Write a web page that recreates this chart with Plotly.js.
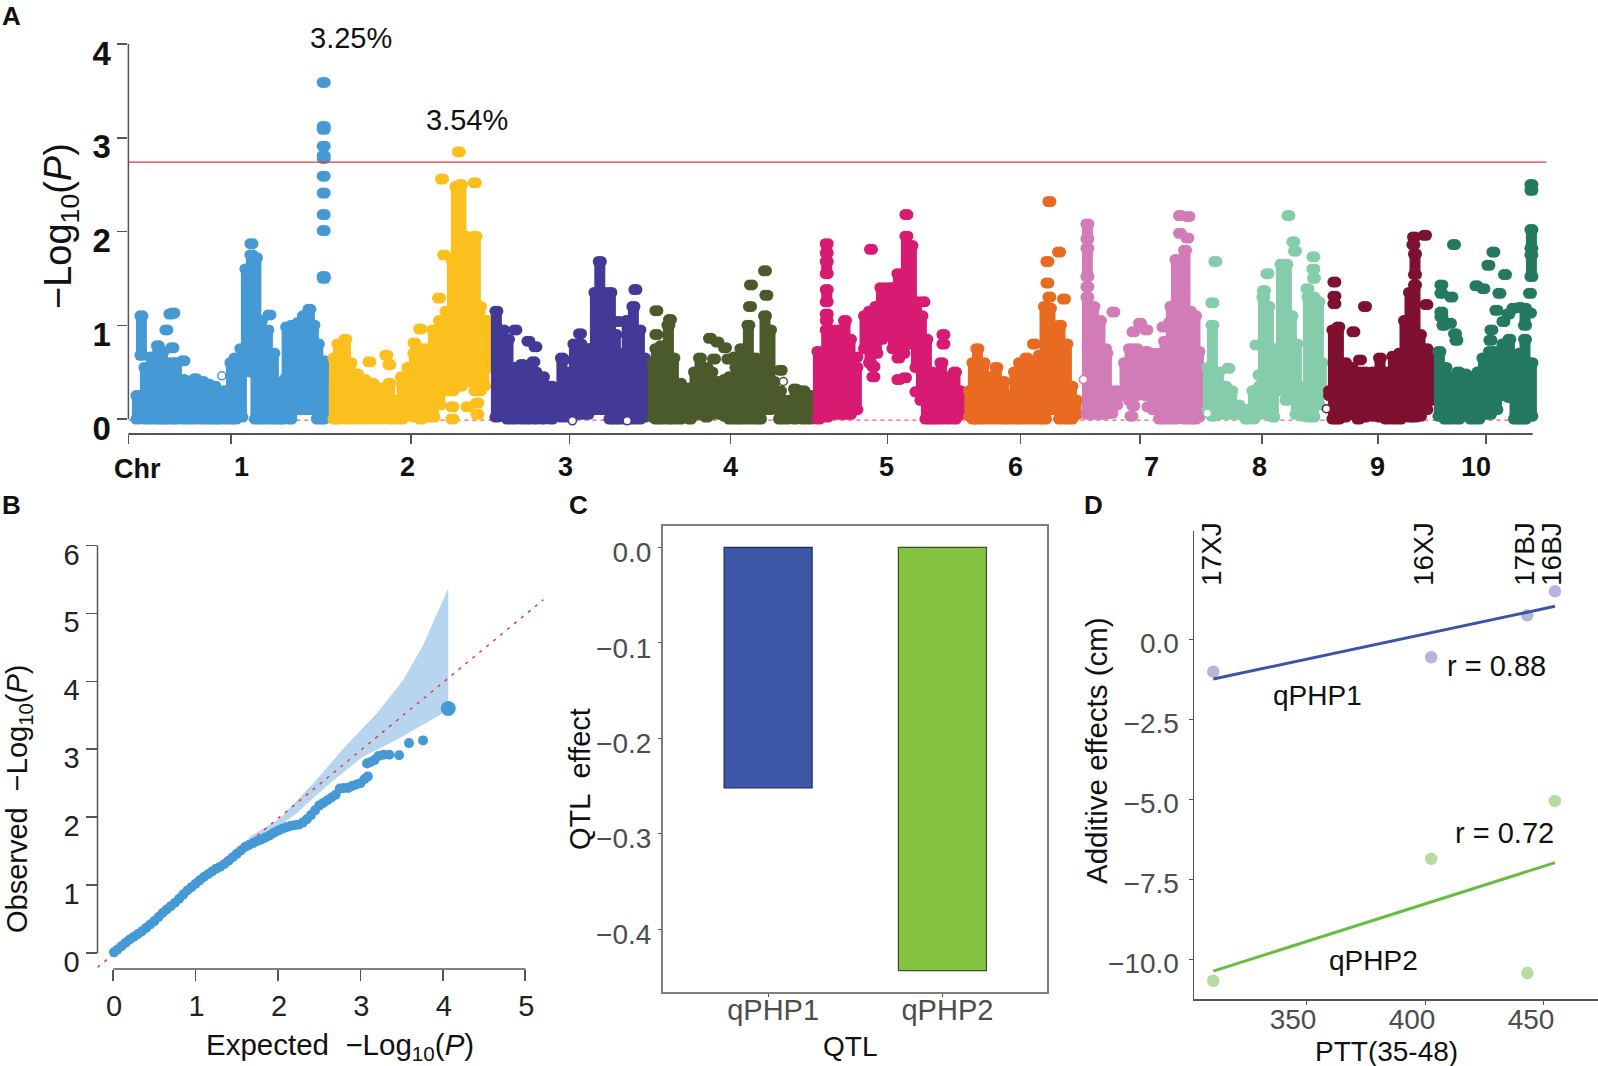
<!DOCTYPE html>
<html>
<head>
<meta charset="utf-8">
<script src="https://cdn.plot.ly/plotly-3.0.1.min.js"></script>
<style>body{margin:0;background:#fff}</style>
</head>
<body>
<div id="chart" style="width:1598px;height:1066px"></div>
<script>
/* Values. Panel A positions are along the genome axis,
   each chromosome is a list of columns (lo..hi) of overlapping SNP dots plus the loose dots. */

const chrNames = ["1","2","3","4","5","6","7","8","9","10"];
const chrColors = ["#4599d5","#fbc01d","#433a97","#4b5a2b","#d81b72","#e96a21","#d17cb7","#85cdaa","#7e112f","#237a60"];
const chrTicks = [0,102.6,282.6,441,602.2,759.2,892.2,1011.6,1133.6,1249.6,1357.6];
const chrLabelX = [8.6,112.6,278.6,436.6,602.2,757.6,886.6,1022.6,1130.6,1248.6,1347.6];

const chr1X  = [9,13,17,23,29.5,34,38,44,48,55,61,67,74,80,86,90.5,97,103,107,113,118,123,127.5,132.6,139,145,150,154.5,158.7,162,164,170.5,175.5,181,185,189.4,195];
const chr1Lo = [0,.68,0,0,0,0,0,0,0,0,0,0,0,0,0,0,0,0,0,.02,.7,.5,0,0,0,0,0,0,.45,0,.15,.1,.1,.1,.1,0,0];
const chr1Hi = [.25,1.1,.55,.66,.78,.72,.6,.6,.6,.42,.4,.43,.4,.37,.35,.2,.3,.6,.65,.75,1.6,1.75,1.72,1.05,.95,.7,.35,.4,.98,.05,1,1.03,1.1,1.17,1,.8,.62];
const chr1DotX = [38,42,45,44,55,123,141,195.3,195.3,195.3,195.3,195.3,195.3,195.3,195.3,195.3,195.3,195.3,195.3,198,198];
const chr1DotY = [.95,1.12,1.13,.76,.62,1.87,1.11,3.59,3.12,3.09,2.91,2.81,2.78,2.59,2.41,2.18,2.01,1.52,1.5,.6,.5];

const chr2X  = [206,210,217,222,228.5,236,244,252.5,261,267,273.6,280,286,292.5,299,305,311.5,318,324,328,332.5,336.7,342,347,351.5,355.6,360];
const chr2Lo = [0,0,0,0,0,0,0,0,0,0,0,.05,.02,0,.02,.02,.15,.3,.3,.35,.35,.55,.4,.3,.3,.35,.55];
const chr2Hi = [.65,.8,.85,.6,.48,.42,.38,.33,.38,.2,.45,.55,.7,.75,.75,.95,1.05,1.15,1.7,2.48,2.5,1.95,1.9,1.95,1.2,1.05,1.05];
const chr2DotX = [241,258,261,286,291.7,310.6,315.7,313.6,330.4,346.4,324,324,339,349,349];
const chr2DotY = [.61,.68,.58,.81,.96,1.29,1.75,2.56,2.85,2.52,.13,0,.13,.17,.05];

const chr3X  = [368,374.6,379.6,386,393.5,400,407,414.6,423,429,433.5,440,446,452,459,463,467,471.4,475.6,482,487,492,498.8,505,511,515.6];
const chr3Lo = [.02,.03,0,0,0,0,0,0,0,.05,.02,.02,.05,.05,.05,.1,.1,.1,.1,0,0,0,0,0,0,.02];
const chr3Hi = [1.15,.95,.85,.55,.58,.57,.5,.45,.35,.3,.65,.5,.8,.8,.75,.75,1.35,1.68,1.35,1.35,.9,.7,1.05,1.2,.95,.65];
const chr3DotX = [387,400,407,405,435,451.6,490,507];
const chr3DotY = [.95,.83,.77,.61,.63,.91,1.04,1.38];

const chr4X  = [525,528,533,540,545,551.6,561.6,566.6,571.6,578,583,591.6,596.6,601.6,608,613,620,626.6,631.6,636.6,641.6,645,651.6,658,666.6,675,681.6];
const chr4Lo = [.02,0,0,0,0,0,0,.05,.05,.02,.05,.05,.03,0,0,0,0,0,0,.1,.1,.15,0,0,0,0,0];
const chr4Hi = [.6,.75,.78,1,.65,.38,.33,.5,.65,.55,.5,.4,.42,.45,.55,.75,1,.65,.6,1.1,.95,.4,.3,.2,.32,.3,.25];
const chr4DotX = [528,528,541.6,581.6,589,596.6,585.6,600,606.6,622.6,621.6,636.6,638,652.3];
const chr4DotY = [1.155,.9,1.06,.86,.82,.76,.64,.64,.66,1.43,1.2,1.58,1.32,.52];

const chr5X  = [690,698.3,698.3,698.3,698.3,698.3,705,711.6,716.6,721.6,728,736.6,741.6,748,753,760,765,770,775,778,783,788,793,798,803,808,813,820,826.6,831];
const chr5Lo = [0,.02,1.05,1.25,1.55,1.77,.05,.05,.05,.05,.1,.75,.6,.7,.85,.9,.75,.8,.7,.8,.8,.55,.2,0,0,0,0,0,0,.05];
const chr5Hi = [.72,.95,1.12,1.38,1.68,1.87,.95,.95,1.05,.85,.55,1.1,1.15,1.2,1.4,1.4,1.4,1.55,1.5,1.95,1.85,1.25,1.1,.85,.5,.4,.6,.45,.5,.3];
const chr5DotX = [728,745,745,742.6,770,770,776.6,778,795,788,815,815];
const chr5DotY = [.66,.45,.56,1.81,.65,.42,.44,2.18,1.25,.29,.9,.8];

const chr6X  = [841.6,845,849,855,861.6,868,875,880,886.6,891.6,898,905,911.6,916.6,921.6,926.6,931.6,938,943,947.6];
const chr6Lo = [.03,0,0,0,0,0,0,0,0,0,0,0,0,0,.1,.1,0,0,0,.05];
const chr6Hi = [.3,.6,.75,.6,.45,.55,.4,.25,.5,.6,.65,.62,.68,1.2,1.18,.8,1,.8,.35,.2];
const chr6DotX = [905.6,921,930.6,919,919,921,935.6];
const chr6DotY = [.8,2.32,1.78,1.68,1.45,1.3,1.28];

const chr7X  = [959,959,959,965,971.6,976.6,978,981.6,988,996.6,1001.6,1008,1018,1025,1031.6,1036.6,1043,1048,1056.6,1061.6,1066.6,1070];
const chr7Lo = [.05,1.52,1.92,.05,.05,.05,.1,.1,.15,.25,.2,.25,.25,.1,0,0,0,0,0,0,0,.02];
const chr7Hi = [1.3,1.82,2.08,1.2,1.05,.75,.7,.3,.3,.6,.75,.75,.72,.7,.7,.83,1.2,1.7,1.8,1.15,1.1,.72];
const chr7DotX = [959,985,1005,1011.6,1018,1005,1020,1003,983,1035,1041.6,1051.6,1059,1051.6,1060];
const chr7DotY = [1.41,1.14,.93,1.02,.95,.14,.13,.03,.06,.98,1.03,1.98,1.93,2.17,2.16];

const chr8X  = [1080,1084,1090,1096.6,1103,1110,1118,1125,1131.6,1135,1140,1145,1153,1158,1163,1168,1175,1180,1185,1190,1193];
const chr8Lo = [.1,.03,.05,.05,.05,.05,0,0,.05,.4,.05,.02,.3,.2,.3,.05,.03,.02,.02,.15,.3];
const chr8Hi = [.55,1,.5,.35,.3,.15,.1,.3,.35,1.3,1.2,.75,1.65,1.65,1.1,.8,.35,1.3,1.3,1.25,.6];
const chr8DotX = [1087,1084,1100,1131,1128,1135.6,1139,1160,1165,1166.6,1179,1185,1185,1185.6];
const chr8DotY = [1.68,1.24,.54,.47,.79,1.37,1.55,2.17,1.89,1.79,1.39,1.73,1.6,1.5];

const chr9X  = [1201.6,1205,1210,1216.6,1223,1230,1236.6,1245,1251.6,1258,1265,1271.6,1276.6,1281.6,1286.6,1286.6,1291.6,1298,1302.6];
const chr9Lo = [.25,0,0,.02,.05,0,.02,.03,.02,0,0,0,.1,.02,.02,1.54,.03,.1,.2];
const chr9Hi = [.3,.95,.98,.6,.55,.5,.5,.5,.65,.5,.67,.7,1.05,1.35,1.43,1.76,.9,.75,.7];
const chr9DotX = [1206,1206,1206,1225,1231.6,1236.6,1285.6,1296.6,1285,1298];
const chr9DotY = [1.46,1.31,1.23,.93,.63,1.2,1.94,1.96,1.86,1.22];

const chr10X  = [1311,1317,1323,1330,1336.6,1343,1350,1355,1361.6,1368,1375,1381,1386.6,1391.6,1396.6,1396.6,1403,1403,1403];
const chr10Lo = [.03,0,0,0,.03,0,0,.05,.05,.1,.25,.23,0,0,0,1,.03,1.52,1.82];
const chr10Hi = [.72,.55,.45,.5,.48,.45,.5,.65,.72,.72,.8,.85,.6,.7,.85,1.18,.6,1.75,2.02];
const chr10DotX = [1313,1313,1323,1313,1313,1315,1321.6,1326.6,1328,1325.6,1365,1360,1376.6,1348,1355,1371,1401.6,1368,1363,1362,1385,1391.6,1375,1380,1401.6,1403,1403];
const chr10DotY = [1.43,1.34,1.3,1.14,1.09,1,1.02,.91,.84,1.86,1.78,1.64,1.54,1.42,1.39,1.34,1.34,1.16,.95,.84,1.18,1.19,1.04,1.12,1.13,2.5,2.44];

const openX = [93.4,444,498.8,655,955,1079,1198];
const openY = [.46,-.02,-.02,.4,.42,.06,.11];
const openColors = ["#4599d5","#433a97","#433a97","#4b5a2b","#d17cb7","#85cdaa","#7e112f"];

const threshold = 2.74;

/* panel B */
const qqX = [.01,.05,.1,.15,.2,.25,.3,.35,.4,.45,.5,.55,.6,.65,.7,.75,.8,.85,.9,.95,1,1.05,1.1,1.15,1.2,1.25,1.3,1.35,1.4,1.45,1.5,1.55,1.6,1.65,1.7,1.75,1.8,1.85,1.9,1.95,2,2.05,2.1,2.15,2.2,2.25,2.3,2.35,2.4,2.45,2.5,2.55,2.6,2.65,2.7,2.75,2.8,2.85,2.9,2.95,3,3.05,3.09,3.08,3.12,3.17,3.22,3.28,3.35,3.47,3.59,3.76];
const qqY = [.01,.05,.1,.15,.2,.24,.28,.32,.37,.42,.47,.53,.59,.64,.69,.74,.8,.86,.92,.97,1.02,1.07,1.12,1.16,1.2,1.24,1.27,1.31,1.36,1.41,1.46,1.51,1.56,1.59,1.62,1.65,1.67,1.7,1.73,1.77,1.8,1.83,1.85,1.87,1.88,1.89,1.92,1.97,2.03,2.1,2.17,2.21,2.25,2.29,2.33,2.42,2.43,2.43,2.46,2.48,2.5,2.56,2.6,2.79,2.81,2.84,2.9,2.92,2.92,2.91,3.09,3.13];
const qqTopX = [4.066];
const qqTopY = [3.6];
const bandUpperX = [1.55,1.66,2.02,2.43,2.83,3.2,3.52,3.76,4.066];
const bandUpperY = [1.55,1.71,1.98,2.5,3.06,3.53,4.02,4.53,5.37];
const bandLowerX = [4.066,3.96,3.44,3.03,2.63,2.23,1.82,1.55];
const bandLowerY = [3.6,3.5,3.14,2.89,2.5,2.06,1.69,1.55];
const refLineX = [-.19,5.22];
const refLineY = [-.21,5.2];

/* panel C */
const qtlNames = ["qPHP1","qPHP2"];
const qtlEffect = [-.252,-.4436];

/* panel D */
const envNames = ["17XJ","16XJ","17BJ","16BJ"];
const envPTT = [311,402.6,443,454.6];
const php1Add = [-1,-.55,.76,1.51];
const php2Add = [-10.66,-6.85,-10.42,-5.04];
const fitPTT = [311,454.6];
const php1Fit = [-1.23,1.04];
const php2Fit = [-10.36,-6.97];

const W = 1598, H = 1066;
const SANS = "Liberation Sans, Arial, sans-serif";
const domX = (a, b) => [a / W, b / W];
const domY = (a, b) => [1 - b / H, 1 - a / H];
const GREY = "#4d4d4d", AX = "#555555";

/* the original dots are squashed (wider than tall): two overlapping round markers
   either side of the value get that shape, SPREAD is half the offset in axis units */
const SPREAD = 1.5;
function chromTrace(i, xs, lo, hi) {
  const x = [], y = [];
  xs.forEach((v, k) => { x.push(v, v, null); y.push(lo[k], hi[k], null); });
  return { type: "scatter", mode: "lines", x, y, xaxis: "x", yaxis: "y",
    name: "Chr " + chrNames[i], showlegend: false, cliponaxis: false,
    line: { color: chrColors[i], width: 11 } };
}
function dotTrace(i, x, y) {
  const xx = [], yy = [];
  x.forEach((v, k) => { xx.push(v - SPREAD, v + SPREAD); yy.push(y[k], y[k]); });
  return { type: "scatter", mode: "markers", x: xx, y: yy, xaxis: "x", yaxis: "y", showlegend: false,
    cliponaxis: false, marker: { color: chrColors[i], size: 11 } };
}

const chromCols = [
  [chr1X,chr1Lo,chr1Hi,chr1DotX,chr1DotY],[chr2X,chr2Lo,chr2Hi,chr2DotX,chr2DotY],
  [chr3X,chr3Lo,chr3Hi,chr3DotX,chr3DotY],[chr4X,chr4Lo,chr4Hi,chr4DotX,chr4DotY],
  [chr5X,chr5Lo,chr5Hi,chr5DotX,chr5DotY],[chr6X,chr6Lo,chr6Hi,chr6DotX,chr6DotY],
  [chr7X,chr7Lo,chr7Hi,chr7DotX,chr7DotY],[chr8X,chr8Lo,chr8Hi,chr8DotX,chr8DotY],
  [chr9X,chr9Lo,chr9Hi,chr9DotX,chr9DotY],[chr10X,chr10Lo,chr10Hi,chr10DotX,chr10DotY],
];

const traces = [];
traces.push({ type: "scatter", mode: "lines", x: [0, 1404], y: [-.012, -.012], xaxis: "x", yaxis: "y",
  showlegend: false, line: { color: "#ee3344", width: 1, dash: "4px,4px" } });
chromCols.forEach((c, i) => {
  traces.push(chromTrace(i, c[0], c[1], c[2]));
  // column ends get the same dots as the loose points, so the silhouette is scalloped
  traces.push(dotTrace(i, c[0].concat(c[0], c[3]), c[1].concat(c[2], c[4])));
});
traces.push({ type: "scatter", mode: "markers", x: openX, y: openY, xaxis: "x", yaxis: "y", showlegend: false,
  cliponaxis: false, marker: { color: "#ffffff", size: 8, line: { color: openColors, width: 1.5 } } });
traces.push({ type: "scatter", mode: "lines", x: [0, 1418], y: [threshold, threshold], xaxis: "x", yaxis: "y",
  showlegend: false, line: { color: "#e8343c", width: 1.3 } });

/* B */
traces.push({ type: "scatter", mode: "lines", x: bandUpperX.concat(bandLowerX), y: bandUpperY.concat(bandLowerY),
  xaxis: "x2", yaxis: "y2", fill: "toself", fillcolor: "#b7d5ee", line: { width: 0 }, showlegend: false });
traces.push({ type: "scatter", mode: "lines", x: refLineX, y: refLineY, xaxis: "x2", yaxis: "y2", showlegend: false,
  line: { color: "#ee3344", width: 1.5, dash: "3px,6px" } });
traces.push({ type: "scatter", mode: "markers", x: qqX, y: qqY, xaxis: "x2", yaxis: "y2", showlegend: false,
  marker: { color: "#4599d5", size: 10 } });
traces.push({ type: "scatter", mode: "markers", x: qqTopX, y: qqTopY, xaxis: "x2", yaxis: "y2", showlegend: false,
  marker: { color: "#4599d5", size: 15 } });

/* C */
traces.push({ type: "bar", x: qtlNames, y: qtlEffect, width: .505, xaxis: "x3", yaxis: "y3", showlegend: false,
  marker: { color: ["#3b57a5", "#84c441"], line: { color: ["#1f2d5c", "#3c4f2a"], width: 1.2 } } });

/* D */
traces.push({ type: "scatter", mode: "markers", x: envPTT, y: php1Add, xaxis: "x4", yaxis: "y4", showlegend: false,
  marker: { color: "#b4b4dc", size: 12.5 } });
traces.push({ type: "scatter", mode: "markers", x: envPTT, y: php2Add, xaxis: "x4", yaxis: "y4", showlegend: false,
  marker: { color: "#b6dca0", size: 12.5 } });
traces.push({ type: "scatter", mode: "lines", x: fitPTT, y: php1Fit, xaxis: "x4", yaxis: "y4", showlegend: false,
  line: { color: "#3a55a5", width: 3 } });
traces.push({ type: "scatter", mode: "lines", x: fitPTT, y: php2Fit, xaxis: "x4", yaxis: "y4", showlegend: false,
  line: { color: "#66bd3f", width: 3 } });

const annPaper = (text, x, y, size, extra) => Object.assign({ text, x: x / W, y: 1 - y / H, xref: "paper", yref: "paper",
  showarrow: false, xanchor: "center", yanchor: "middle", font: { family: SANS, size, color: "#111" } }, extra || {});
const bold = s => "<b>" + s + "</b>";
const vert = { textangle: -90 };

const annotations = [
  annPaper(bold("A"), 11, 16, 26), annPaper(bold("B"), 11, 505, 26),
  annPaper(bold("C"), 578, 505, 26), annPaper(bold("D"), 1093, 505, 26),
  annPaper(bold("Chr"), 137, 469, 27),
  annPaper("3.25%", 351.4, 38, 29), annPaper("3.54%", 467, 120, 29),
  // axis titles sit off-centre in the original, so they are placed by hand
  annPaper("−Log<sub>10</sub>(<i>P</i>)", 61, 226, 38, vert),
  annPaper("Observed  −Log<sub>10</sub>(<i>P</i>)", 19, 799, 29, vert),
  annPaper("Expected  −Log<sub>10</sub>(<i>P</i>)", 340, 1046, 29.5),
  annPaper("QTL  effect", 580, 779, 29, vert),
  annPaper("QTL", 850, 1046, 28),
  annPaper("Additive effects (cm)", 1096, 751, 29.5, vert),
  annPaper("PTT(35-48)", 1386, 1051, 28),
];
chrNames.forEach((n, i) => annotations.push({ text: bold(n), x: chrLabelX[i + 1], y: 1 - 467 / H, xref: "x", yref: "paper",
  showarrow: false, font: { family: SANS, size: 27, color: "#111" } }));

const envLabelX = [1211, 1423, 1524, 1551];
envNames.forEach((n, i) => annotations.push(annPaper(n, envLabelX[i], 554, 28, vert)));
annotations.push(annPaper("r = 0.88", 1496, 666, 29));
annotations.push(annPaper("qPHP1", 1317, 695, 28));
annotations.push(annPaper("r = 0.72", 1504, 833, 29));
annotations.push(annPaper("qPHP2", 1373, 960, 28));

const lineShape = (x0, y0, x1, y1, width) => ({ type: "line", xref: "paper", yref: "paper", layer: "above",
  x0: x0 / W, x1: x1 / W, y0: 1 - y0 / H, y1: 1 - y1 / H, line: { color: AX, width } });

const layout = {
  width: W, height: H, margin: { l: 0, r: 0, t: 0, b: 0 }, paper_bgcolor: "#fff", plot_bgcolor: "rgba(0,0,0,0)",
  showlegend: false, font: { family: SANS, color: "#111" }, annotations,
  shapes: [
    lineShape(128.4, 44, 128.4, 419, 1.5), lineShape(128.4, 434, 1532.7, 434, 2),
    lineShape(97.5, 545.4, 97.5, 953, 1.5), lineShape(113.3, 969, 525.5, 969, 1.5),
  ],

  xaxis: { domain: domX(128.4, 1548), range: [0, 1419.6], anchor: "y", showgrid: false, zeroline: false, showline: false,
    tickmode: "array", tickvals: chrTicks, showticklabels: false, ticks: "outside", ticklen: 9, tickwidth: 1.5, tickcolor: AX },
  yaxis: { domain: domY(44, 434), range: [-.16, 4], anchor: "x", showgrid: false, zeroline: false, showline: false,
    tickmode: "array", tickvals: [0,1,2,3,4], ticks: "outside", ticklen: 10, tickwidth: 1.5, tickcolor: AX,
    tickfont: { family: SANS, size: 33, weight: "bold", color: "#111" }, ticklabelshift: 9, ticklabelstandoff: 0 },

  xaxis2: { domain: domX(97.5, 545), range: [-.19, 5.24], anchor: "y2", showgrid: false, zeroline: false, showline: false,
    tickmode: "array", tickvals: [0,1,2,3,4,5], ticks: "outside", ticklen: 11, tickwidth: 1.5, tickcolor: AX,
    tickfont: { family: SANS, size: 29, color: "#222" }, ticklabelshift: 1, ticklabelstandoff: 0 },
  yaxis2: { domain: domY(545.4, 969), range: [-.235, 6], anchor: "x2", showgrid: false, zeroline: false, showline: false,
    tickmode: "array", tickvals: [0,1,2,3,4,5,6], ticks: "outside", ticklen: 11, tickwidth: 1.5, tickcolor: AX,
    tickfont: { family: SANS, size: 29, color: "#222" }, ticklabelshift: 9, ticklabelstandoff: 0 },

  xaxis3: { domain: domX(663, 1047), range: [-.603, 1.6], anchor: "y3", showgrid: false, zeroline: false,
    type: "category", categoryorder: "array", categoryarray: qtlNames,
    showline: true, mirror: true, linecolor: "#7f7f7f", linewidth: 2, ticks: "outside", ticklen: 3, tickcolor: AX,
    tickfont: { family: SANS, size: 29, color: GREY }, ticklabelshift: 5, ticklabelstandoff: -12 },
  yaxis3: { domain: domY(526, 992), range: [-.466, .0225], anchor: "x3", showgrid: false, zeroline: false,
    tickmode: "array", tickvals: [0,-.1,-.2,-.3,-.4], ticktext: ["0.0","−0.1","−0.2","−0.3","−0.4"],
    showline: true, mirror: true, linecolor: "#7f7f7f", linewidth: 2, ticks: "outside", ticklen: 3, tickcolor: AX,
    tickfont: { family: SANS, size: 28, color: GREY }, ticklabelshift: 5, ticklabelstandoff: 1 },

  xaxis4: { domain: domX(1194, 1598), range: [302.9, 472.7], anchor: "y4", showgrid: false, zeroline: false,
    tickmode: "array", tickvals: [350,400,450], showline: true, linecolor: AX, linewidth: 1.5, ticks: "outside", ticklen: 4, tickcolor: AX,
    tickfont: { family: SANS, size: 28, color: GREY }, ticklabelshift: -13, ticklabelstandoff: -9 },
  yaxis4: { domain: domY(530.5, 999), range: [-11.23, 3.41], anchor: "x4", showgrid: false, zeroline: false,
    tickmode: "array", tickvals: [0,-2.5,-5,-7.5,-10], ticktext: ["0.0","−2.5","−5.0","−7.5","−10.0"],
    showline: true, linecolor: AX, linewidth: 1.5, ticks: "outside", ticklen: 4, tickcolor: AX,
    tickfont: { family: SANS, size: 28, color: GREY }, ticklabelshift: 4, ticklabelstandoff: 4 },
};

Plotly.newPlot("chart", traces, layout, { displayModeBar: false, staticPlot: true });
</script>
</body>
</html>
